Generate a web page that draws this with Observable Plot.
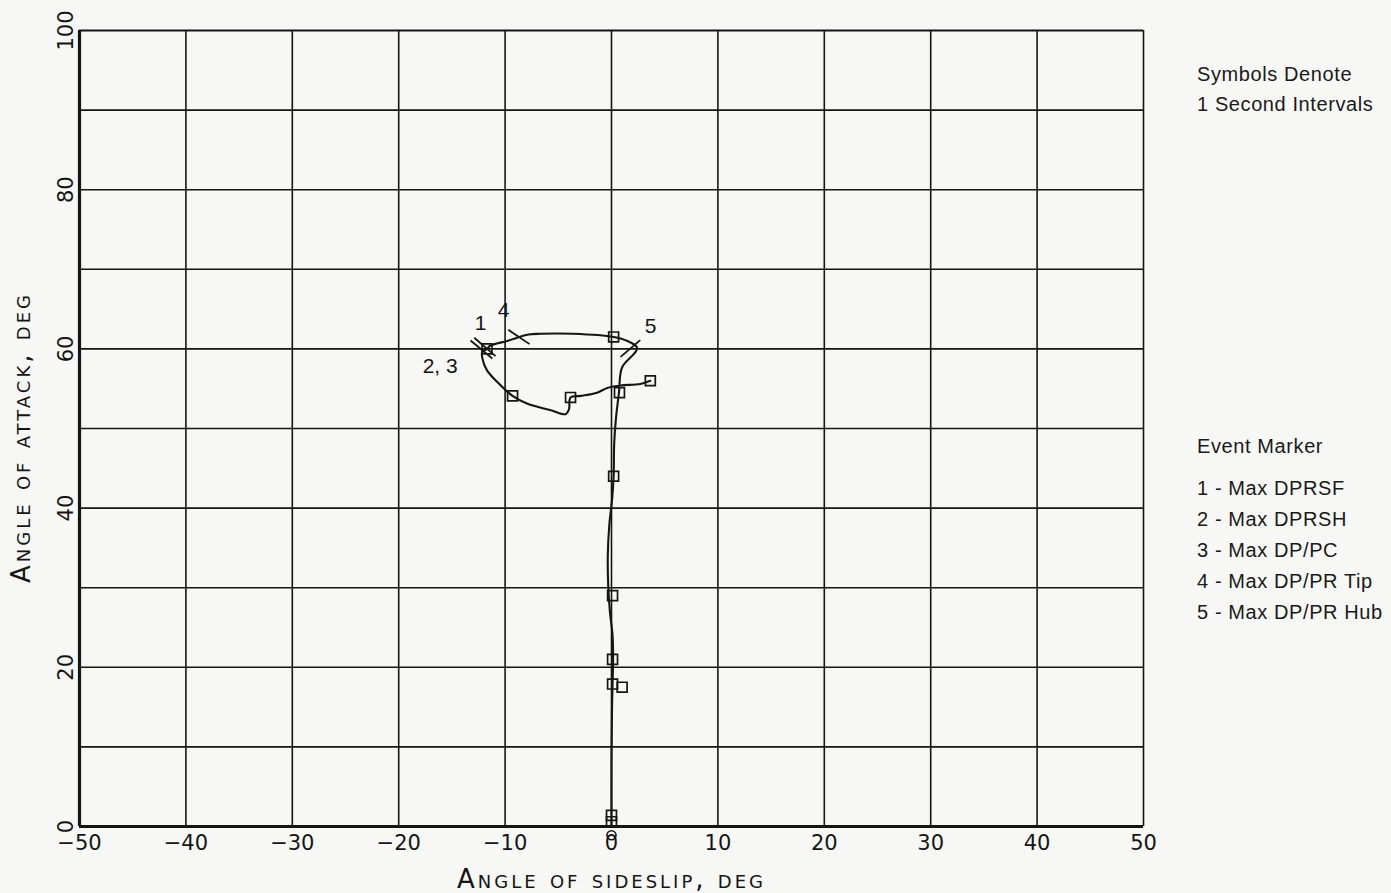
<!DOCTYPE html>
<html>
<head>
<meta charset="utf-8">
<script src="https://cdn.jsdelivr.net/npm/d3@7"></script>
<script src="https://cdn.jsdelivr.net/npm/@observablehq/plot@0.6"></script>
<style>
  html, body { margin: 0; padding: 0; background: #f7f7f6; }
  #wrap { position: relative; width: 1391px; height: 893px; }
  .note { position: absolute; left: 1197px; font-family: "Liberation Sans", Arial, sans-serif; font-size: 20px; letter-spacing: 0.6px; color: #1a1a1a; line-height: 30px; white-space: nowrap; }
</style>
</head>
<body>
<div id="wrap">
  <div id="chart"></div>
  <div class="note" id="symNote" style="top:59px"></div>
  <div class="note" id="evNote" style="top:431px"></div>
</div>
<script>
// Trajectory: angle of sideslip (beta) vs angle of attack (alpha), deg
const pathBeta  = [0, 0, 0.05, 0.1, 0.15, 0.1, -0.15, -0.3, -0.35, -0.2, 0.05, 0.2, 0.25, 0.4, 0.7, 1.0, 2.25, 2.4, 1.5, 0.2, -3.6, -6.7, -7.8, -9.8, -11.4, -11.7, -12.15, -12.15, -11.7, -10.4, -9.3, -7.9, -5.7, -4.3, -4.0, -3.85, -2.9, -1.35, -0.4, 0.85, 2.7, 3.65];
const pathAlpha = [0, 8, 15, 18, 21, 24, 27, 30, 34, 38, 41, 44, 48, 51, 54.5, 57.7, 59.6, 60.2, 61.0, 61.5, 61.9, 61.9, 61.8, 61.0, 60.4, 60.0, 59.6, 58.9, 57.3, 55.4, 54.1, 53.1, 52.3, 51.8, 52.4, 53.9, 54.1, 54.5, 55.1, 55.4, 55.6, 56.0];

// 1-second interval symbols
const symBeta  = [0, 0, 0.1, 1.0, 0.1, 0.1, 0.2, 0.75, 0.2, -11.7, -9.3, -3.85, 3.65];
const symAlpha = [0.6, 1.4, 17.9, 17.5, 21.0, 29.0, 44.0, 54.5, 61.5, 60.0, 54.1, 53.9, 56.0];

// start symbol
const startBeta = [0];
const startAlpha = [-1.1];

// Event marker ticks
const evX1 = [-13.25, -12.9, -9.7, 0.85];
const evY1 = [61.05, 61.4, 62.4, 59.0];
const evX2 = [-11.2, -10.9, -7.7, 2.7];
const evY2 = [58.8, 59.1, 60.6, 61.1];

// Event labels
const evLabels = ["1", "2, 3", "4", "5"];
const evLabelBeta = [-12.3, -16.1, -10.15, 3.67];
const evLabelAlpha = [63.2, 57.8, 64.8, 62.8];

// Axes
const xTicks = [-50, -40, -30, -20, -10, 0, 10, 20, 30, 40, 50];
const yGrid = [10, 20, 30, 40, 50, 60, 70, 80, 90];
const yTickLabels = [0, 20, 40, 60, 80, 100];
const xTitle = "Angle of sideslip, deg";
const yTitle = "Angle of attack, deg";

const symNote = ["Symbols Denote", "1 Second Intervals"];
const evTitle = "Event Marker";
const evNotes = ["1 - Max DPRSF", "2 - Max DPRSH", "3 - Max DP/PC", "4 - Max DP/PR Tip", "5 - Max DP/PR Hub"];

const path = pathBeta.map((b, i) => ({b, a: pathAlpha[i]}));
const syms = symBeta.map((b, i) => ({b, a: symAlpha[i]}));
const starts = startBeta.map((b, i) => ({b, a: startAlpha[i]}));
const ev = evX1.map((x1, i) => ({x1, y1: evY1[i], x2: evX2[i], y2: evY2[i]}));
const evL = evLabels.map((t, i) => ({t, b: evLabelBeta[i], a: evLabelAlpha[i]}));

const ink = "#151515";
const tickFont = "DejaVu Sans, sans-serif";

const chart = Plot.plot({
  width: 1160,
  height: 893,
  marginLeft: 79,
  marginRight: 17,
  marginTop: 30,
  marginBottom: 67,
  style: {background: "transparent", color: ink, fontFamily: tickFont, fontSize: "21px", overflow: "visible"},
  x: {domain: [-50, 50]},
  y: {domain: [0, 100]},
  marks: [
    Plot.ruleX(xTicks, {stroke: ink, strokeWidth: 1.6}),
    Plot.ruleY(yGrid, {stroke: ink, strokeWidth: 1.6}),
    Plot.ruleY([100], {stroke: ink, strokeWidth: 1.8}),
    Plot.ruleX([-50], {stroke: ink, strokeWidth: 3.2}),
    Plot.ruleY([0], {stroke: ink, strokeWidth: 3.2}),
    Plot.axisX(xTicks, {tickSize: 0, tickPadding: 9, label: null, fontSize: 21, fill: ink}),
    Plot.axisY(yTickLabels, {tickSize: 0, tickPadding: 7, tickRotate: -90, label: null, fontSize: 21, fill: ink}),
    Plot.text([xTitle], {frameAnchor: "bottom", dy: 61, textAnchor: "middle", fontVariant: "small-caps", fontSize: 26, fill: ink}),
    Plot.text([yTitle], {frameAnchor: "left", dx: -58, dy: 9, rotate: -90, textAnchor: "middle", fontVariant: "small-caps", fontSize: 26, fill: ink}),
    Plot.line(path, {x: "b", y: "a", curve: "catmull-rom", stroke: ink, strokeWidth: 2.1}),
    Plot.dot(syms, {x: "b", y: "a", symbol: "square", r: 5.6, stroke: ink, strokeWidth: 1.7, fill: "none"}),
    Plot.dot(starts, {x: "b", y: "a", symbol: "circle", r: 4.5, stroke: ink, strokeWidth: 1.6, fill: "none"}),
    Plot.link(ev, {x1: "x1", y1: "y1", x2: "x2", y2: "y2", stroke: ink, strokeWidth: 1.8}),
    Plot.text(evL, {x: "b", y: "a", text: "t", fontFamily: "Liberation Sans, Arial, sans-serif", fontSize: 21, fill: ink})
  ]
});
document.getElementById("chart").appendChild(chart);
// letter spacing for axis titles
d3.select(chart).selectAll("text").filter(function() { return this.textContent === xTitle || this.textContent === yTitle; }).style("letter-spacing", "3px");

document.getElementById("symNote").innerHTML = symNote.join("<br>");
document.getElementById("evNote").innerHTML = `<div style="margin-bottom:11px">${evTitle}</div>` + evNotes.join("<br>");
document.getElementById("evNote").style.lineHeight = "31px";
</script>
</body>
</html>
